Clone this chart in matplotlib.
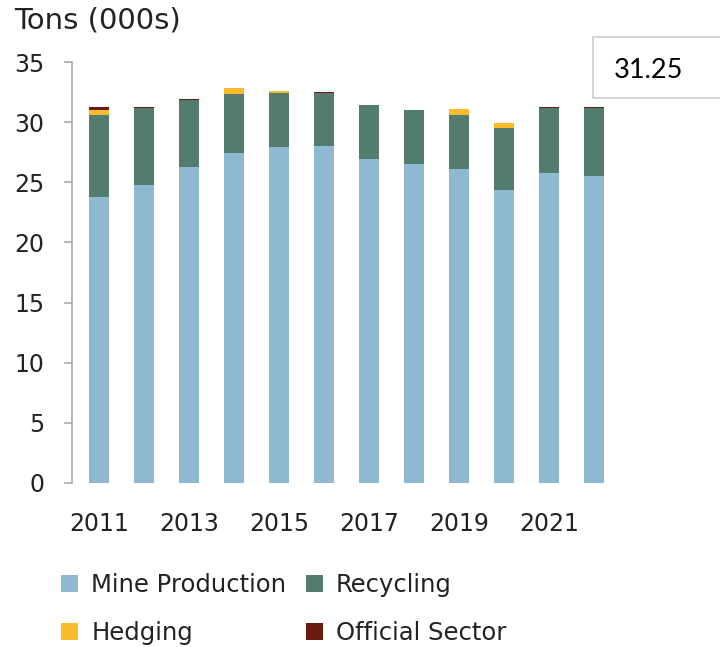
import matplotlib
matplotlib.use("Agg")
import matplotlib.pyplot as plt
from matplotlib.patches import Patch, Rectangle
import numpy as np

years = [2011, 2012, 2013, 2014, 2015, 2016, 2017, 2018, 2019, 2020, 2021, 2022]
mine_production = [23.8, 24.8, 26.3, 27.4, 27.9, 28.0, 26.9, 26.5, 26.1, 24.35, 25.75, 25.55]
recycling = [6.8, 6.4, 5.5, 4.9, 4.55, 4.45, 4.5, 4.55, 4.5, 5.15, 5.45, 5.65]
hedging = [0.4, 0.0, 0.0, 0.5, 0.15, 0.0, 0.0, 0.0, 0.5, 0.4, 0.0, 0.0]
official_sector = [0.25, 0.1, 0.1, 0.0, 0.0, 0.05, 0.05, 0.0, 0.0, 0.0, 0.05, 0.05]
tick_years = [2011, 2013, 2015, 2017, 2019, 2021]
annotation = "31.25"

colors = {
    "Mine Production": "#8FB9D2",
    "Recycling": "#527D6E",
    "Hedging": "#FBBA2C",
    "Official Sector": "#6A1B0D",
}

plt.rcParams['font.family'] = ['DejaVu Sans']
text_color = "#222222"

fig = plt.figure(figsize=(7.2, 6.47), dpi=100)
ax = fig.add_axes([0.1, 1 - 483 / 647, (620 - 72) / 720, (483 - 62) / 647])

x = np.arange(len(years))
w = 0.46
series = [("Mine Production", mine_production), ("Recycling", recycling),
          ("Hedging", hedging), ("Official Sector", official_sector)]
bottom = np.zeros(len(years))
for name, vals in series:
    vals = np.array(vals)
    ax.bar(x, vals, w, bottom=bottom, color=colors[name], linewidth=0)
    bottom += vals

ax.set_xlim(-0.6, 11.58)
ax.set_ylim(0, 35)
ax.set_yticks(range(0, 36, 5))
ax.set_xticks([years.index(y) for y in tick_years])
ax.set_xticklabels([str(y) for y in tick_years])

for s in ["top", "right", "bottom"]:
    ax.spines[s].set_visible(False)
ax.spines["left"].set_color("#AAAAAA")
ax.spines["left"].set_linewidth(1.2)
ax.tick_params(axis="y", direction="out", length=6, width=1.2, color="#AAAAAA",
               labelsize=17, labelcolor=text_color, pad=14)
ax.tick_params(axis="x", length=0, labelsize=17, labelcolor=text_color, pad=21)

fig.text(14 / 720, 1 - 20 / 647, "Tons (000s)", fontsize=21, color=text_color,
         va="center", ha="left")

# annotation box
fig.patches.append(Rectangle((593 / 720, 1 - 98 / 647), 130 / 720, 61 / 647,
                             transform=fig.transFigure, fill=False,
                             edgecolor="#CCCCCC", linewidth=1.2))
fig.text(614 / 720, 1 - 70 / 647, annotation, fontsize=19.5, color="black",
         family=["Lato", "DejaVu Sans"], ha="left", va="center")

by_name = {n: Patch(facecolor=colors[n], edgecolor="none", label=n) for n, _ in series}
order = ["Mine Production", "Hedging", "Recycling", "Official Sector"]
fig.legend(handles=[by_name[n] for n in order], ncol=2, loc="upper left",
           bbox_to_anchor=(39 / 720, 1 - 551 / 647), frameon=False,
           fontsize=17.5, handlelength=0.7, handleheight=0.7, handletextpad=0.55,
           columnspacing=0.8, labelspacing=1.0, labelcolor=text_color)

fig.savefig("out.png", dpi=100)
